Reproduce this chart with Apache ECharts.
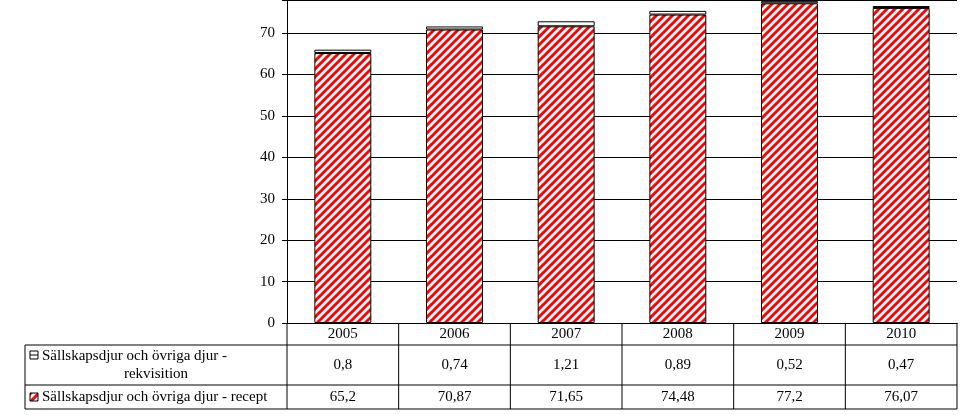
<!DOCTYPE html>
<html>
<head>
<meta charset="utf-8">
<script src="https://cdn.jsdelivr.net/npm/echarts@6/dist/echarts.min.js"></script>
<style>html,body{margin:0;padding:0;background:#fff}#main{width:967px;height:415px}</style>
</head>
<body>
<div id="main"></div>
<script>
var years = ['2005', '2006', '2007', '2008', '2009', '2010'];
var recept = [65.2, 70.87, 71.65, 74.48, 77.2, 76.07];
var rekvisition = [0.8, 0.74, 1.21, 0.89, 0.52, 0.47];
var receptLabel = 'Sällskapsdjur och övriga djur - recept';
var rekvLabel = ['Sällskapsdjur och övriga djur -', 'rekvisition'];

// rödrandigt mönster
var pat = document.createElement('canvas');
pat.width = 8; pat.height = 8;
var c = pat.getContext('2d');
c.fillStyle = '#fff'; c.fillRect(0, 0, 8, 8);
c.strokeStyle = '#ff0000'; c.lineWidth = 3;
c.beginPath();
c.moveTo(-2, 10); c.lineTo(10, -2);
c.moveTo(-6, 6); c.lineTo(6, -6);
c.moveTo(2, 14); c.lineTo(14, 2);
c.stroke();

var fmt = function (v) { return String(v).replace('.', ','); };
var font = 'Liberation Serif';
var fs = 15;

var myChart = echarts.init(document.getElementById('main'));
var option = {
  animation: false,
  textStyle: { fontFamily: font },
  grid: { left: 287, right: 10, top: 0, bottom: 92 },
  xAxis: {
    type: 'category',
    data: years,
    axisLine: { lineStyle: { color: '#000' } },
    axisTick: { show: false },
    axisLabel: { show: false }
  },
  yAxis: {
    type: 'value',
    min: 0,
    max: 78,
    interval: 10,
    axisLine: { show: true, lineStyle: { color: '#000' } },
    axisTick: { show: true, length: 5, lineStyle: { color: '#000' } },
    axisLabel: {
      color: '#000', fontSize: fs, fontFamily: font, margin: 12,
      formatter: function (v) { return v % 10 === 0 ? v : ''; }
    },
    splitLine: { lineStyle: { color: '#000' } }
  },
  series: [{
    type: 'bar',
    stack: 'a',
    barWidth: '51%',
    data: recept,
    itemStyle: { color: { image: pat, repetition: 'repeat' }, borderColor: '#000', borderWidth: 1 }
  }, {
    type: 'bar',
    stack: 'a',
    data: rekvisition,
    itemStyle: { color: '#fff', borderColor: '#000', borderWidth: 1 }
  }]
};
myChart.setOption(option);

// tabell under diagrammet
var x0 = 287, x1 = 957, xl = 25, yTop = 323, yR1 = 345, yR2 = 385, yBot = 409;
var cw = (x1 - x0) / years.length;
var g = [];
var line = function (a, b, c2, d) {
  g.push({ type: 'line', shape: { x1: a, y1: b, x2: c2, y2: d }, style: { stroke: '#000', lineWidth: 1 } });
};
var txt = function (s, x, y, align) {
  g.push({ type: 'text', x: x, y: y, style: { text: s, fill: '#000', font: fs + 'px "' + font + '"', align: align || 'center', verticalAlign: 'middle' } });
};
line(x0, yR1, x1, yR1);
line(xl, yR1, x0, yR1);
line(xl, yR2, x1, yR2);
line(xl, yBot, x1, yBot);
line(xl, yR1, xl, yBot);
for (var i = 0; i <= years.length; i++) line(x0 + i * cw, yTop, x0 + i * cw, yBot);
years.forEach(function (y, i) {
  var cx = myChart.convertToPixel({ xAxisIndex: 0 }, y);
  txt(y, cx, (yTop + yR1) / 2);
  txt(fmt(rekvisition[i]), cx, (yR1 + yR2) / 2);
  txt(fmt(recept[i]), cx, (yR2 + yBot) / 2);
});
// legendikoner
g.push({ type: 'rect', shape: { x: 30, y: 351, width: 8, height: 8 }, style: { fill: '#fff', stroke: '#000', lineWidth: 1 } });
line(30, 355, 38, 355);
g.push({ type: 'rect', shape: { x: 30, y: 393, width: 8, height: 8 }, style: { fill: { image: pat, repeat: 'repeat' }, stroke: '#000', lineWidth: 1 } });
txt(rekvLabel[0], 42, 356, 'left');
txt(rekvLabel[1], 156, 374, 'center');
txt(receptLabel, 42, 397, 'left');
myChart.setOption({ graphic: g });
</script>
</body>
</html>
